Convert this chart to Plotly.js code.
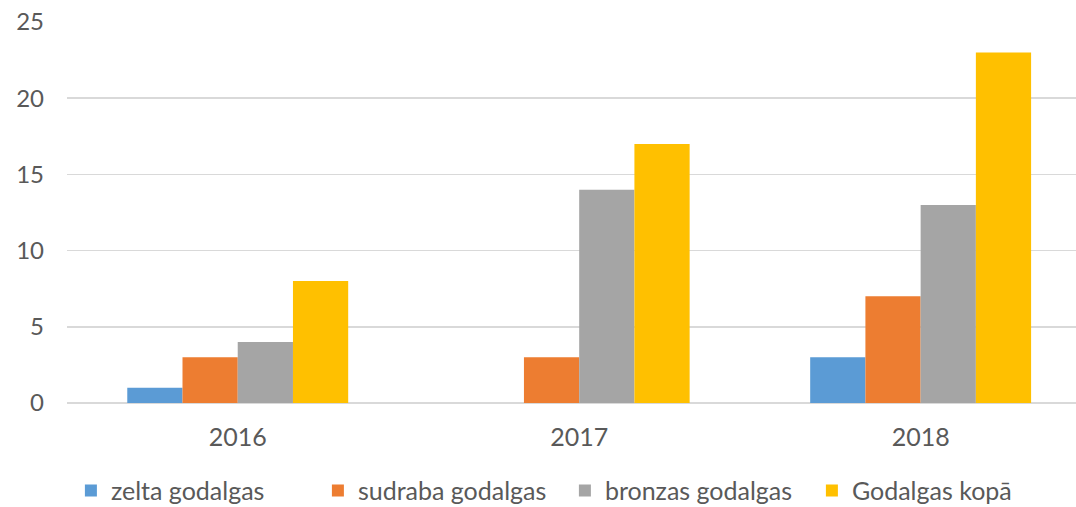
<!DOCTYPE html>
<html><head><meta charset="utf-8">
<script src="https://cdn.plot.ly/plotly-3.0.1.min.js"></script>
<style>html,body{margin:0;padding:0;background:#fff}#c{width:1076px;height:507px}</style>
</head><body><div id="c"></div>
<script>
const years = ["2016", "2017", "2018"];
const seriesNames = ["zelta godalgas", "sudraba godalgas", "bronzas godalgas", "Godalgas kopā"];
const zelta = [1, 0, 3];
const sudraba = [3, 3, 7];
const bronzas = [4, 14, 13];
const kopa = [8, 17, 23];
const colors = ["#5B9BD5", "#ED7D31", "#A5A5A5", "#FFC000"];
const vals = [zelta, sudraba, bronzas, kopa];
const traces = vals.map((v, i) => ({
  type: "bar", x: years, y: v, name: seriesNames[i],
  marker: {color: colors[i]}, hoverinfo: "none"
}));
const layout = {
  width: 1076, height: 507,
  margin: {l: 67, r: 0, t: 22, b: 104, autoexpand: false},
  paper_bgcolor: "#fff", plot_bgcolor: "#fff",
  font: {family: "Lato, Open Sans, sans-serif", color: "#595959", size: 24},
  barmode: "group", bargap: 0.353, bargroupgap: 0,
  xaxis: {type: "category", range: [-0.5, 2.455], showgrid: false, zeroline: false,
    ticks: "", showline: false, ticklabelstandoff: 17, tickfont: {size: 25, color: "#595959"}},
  yaxis: {range: [0, 25], dtick: 5, showgrid: true, gridcolor: "#D9D9D9", gridwidth: 1.5,
    zeroline: true, zerolinecolor: "#D9D9D9", zerolinewidth: 1.5,
    ticks: "", showline: false, ticklabelstandoff: 22, tickfont: {size: 24, color: "#595959"}},
  legend: {orientation: "h", xref: "container", yref: "paper", x: 0.525, xanchor: "center",
    y: -0.17, yanchor: "top", font: {size: 25, color: "#595959"}, itemwidth: 30,
    entrywidth: 202, entrywidthmode: "pixels", traceorder: "normal"},
  showlegend: true
};
Plotly.newPlot("c", traces, layout, {displayModeBar: false, staticPlot: true});
</script></body></html>
